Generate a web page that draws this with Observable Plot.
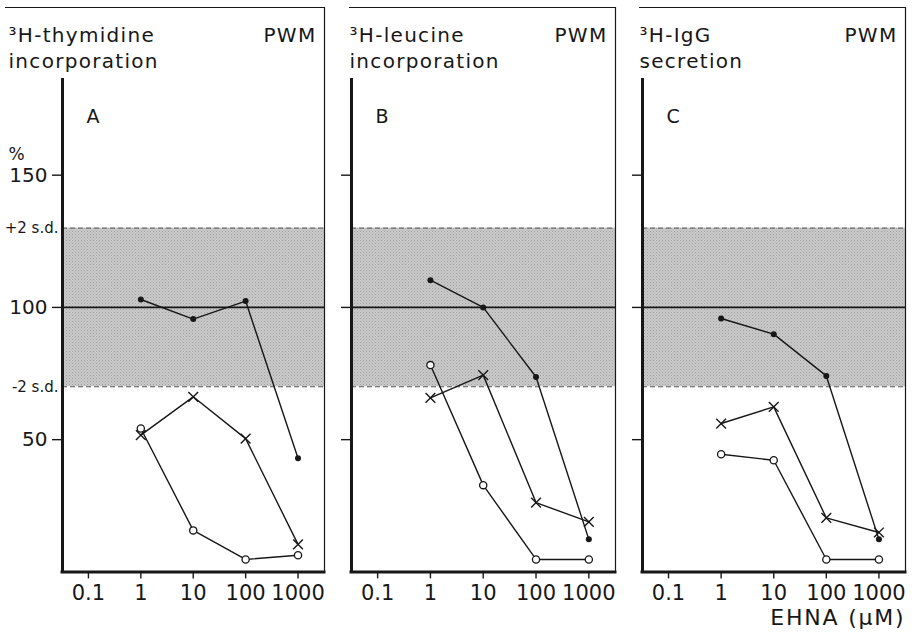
<!DOCTYPE html>
<html>
<head>
<meta charset="utf-8">
<script src="https://cdn.jsdelivr.net/npm/d3@7"></script>
<script src="https://cdn.jsdelivr.net/npm/@observablehq/plot@0.6"></script>
<style>
  html, body { margin: 0; padding: 0; background: #fff; }
  #figure { position: relative; width: 912px; height: 633px; overflow: hidden; }
  #figure > svg { position: absolute; top: 0; }
</style>
</head>
<body>
<svg width="0" height="0" style="position:absolute">
  <defs>
    <!-- halftone stipple for the ±2 s.d. reference band -->
    <pattern id="stipple" width="3" height="3" patternUnits="userSpaceOnUse">
      <rect width="3" height="3" fill="#c9c9c9"/>
      <rect width="1" height="1" fill="#a2a2a2"/>
      <rect x="1.5" y="1.5" width="1" height="1" fill="#b4b4b4"/>
    </pattern>
  </defs>
</svg>
<div id="figure"></div>
<script>
// EHNA concentrations (µM) tested
const doses = [1, 10, 100, 1000];
const doseTicks = [0.1, 1, 10, 100, 1000];
const percentTicks = [50, 100, 150];
const sdBand = [70, 130];          // control mean -2 s.d. / +2 s.d. (% of control)
const sdLabels = ["-2 s.d.", "+2 s.d."];
const control = [100];

// A: 3H-thymidine incorporation, % of control
const thymidineDots = [103, 95.6, 102.4, 43];
const thymidineCrosses = [51.7, 66.2, 50.4, 10.4];
const thymidineCircles = [54.2, 15.7, 4.7, 6.3];

// B: 3H-leucine incorporation, % of control
const leucineDots = [110.3, 100, 73.7, 12.3];
const leucineCrosses = [65.8, 74.4, 26.2, 18.9];
const leucineCircles = [78.2, 32.8, 4.7, 4.7];

// C: 3H-IgG secretion, % of control
const iggDots = [95.8, 89.9, 74.1, 12.3];
const iggCrosses = [56.1, 62.4, 20.4, 14.9];
const iggCircles = [44.5, 42.2, 4.7, 4.7];

const panelTitles = ["³H-thymidine\nincorporation", "³H-leucine\nincorporation", "³H-IgG\nsecretion"];
const panelLetters = ["A", "B", "C"];
const mitogen = "PWM";
const percentLabel = "%";
const xLabel = "EHNA (μM)";

// scale extents shared by the three panels
const xDomain = [0.032, 3200];
const yDomain = [0, 213.4];
const axisTop = 186;

const ink = "#171717";
const font = "'DejaVu Sans', sans-serif";
const titleSize = 20;
const xLabelSize = 22;

const panels = [
  {letter: panelLetters[0], title: panelTitles[0], dots: thymidineDots, crosses: thymidineCrosses, circles: thymidineCircles,
   left: 0, width: 330, marginLeft: 62, marginRight: 6, titleDx: -54, frameInset: -57, tickLabels: true},
  {letter: panelLetters[1], title: panelTitles[1], dots: leucineDots, crosses: leucineCrosses, circles: leucineCircles,
   left: 330, width: 290, marginLeft: 21, marginRight: 5, titleDx: -2, frameInset: -2},
  {letter: panelLetters[2], title: panelTitles[2], dots: iggDots, crosses: iggCrosses, circles: iggCircles,
   left: 620, width: 292, marginLeft: 22, marginRight: 7, titleDx: -3, frameInset: -3, xLabel: true}
];

function drawPanel(p) {
  const rows = doses.flatMap((dose, i) => [
    {dose, value: p.dots[i], kind: "dots"},
    {dose, value: p.crosses[i], kind: "crosses"},
    {dose, value: p.circles[i], kind: "circles"}
  ]);

  const marks = [
    // reference band and control level
    Plot.rect([sdBand], {x1: xDomain[0], x2: xDomain[1], y1: d => d[0], y2: d => d[1], fill: "url(#stipple)"}),
    Plot.ruleY(sdBand, {stroke: "#555", strokeWidth: 1, strokeDasharray: "5,3"}),
    Plot.ruleY(control, {stroke: ink, strokeWidth: 1.7}),

    // panel frame: thin top and right, heavy axes
    Plot.ruleY([yDomain[1]], {stroke: ink, strokeWidth: 1.2, insetLeft: p.frameInset}),
    Plot.ruleX([xDomain[1]], {y1: yDomain[0], y2: yDomain[1], stroke: ink, strokeWidth: 1.2}),
    Plot.ruleX([xDomain[0]], {y1: 0, y2: axisTop, stroke: ink, strokeWidth: 3, strokeLinecap: "square"}),
    Plot.ruleY([0], {stroke: ink, strokeWidth: 3, strokeLinecap: "square"}),

    Plot.axisX({ticks: doseTicks, tickFormat: d => String(d), tickSize: 7, tickPadding: 6,
      fontSize: 21, stroke: ink, strokeWidth: 1.4, fill: ink, label: null}),
    Plot.axisY({ticks: percentTicks, tickFormat: p.tickLabels ? d => String(d) : () => "",
      tickSize: 10, tickPadding: 5, fontSize: 20, stroke: ink, strokeWidth: 1.4, fill: ink, label: null}),

    // dose-response curves
    Plot.line(rows, {x: "dose", y: "value", z: "kind", stroke: ink, strokeWidth: 1.4}),
    Plot.dot(rows.filter(d => d.kind === "circles"), {x: "dose", y: "value", r: 3.6, fill: "white", stroke: ink, strokeWidth: 1.3}),
    Plot.dot(rows.filter(d => d.kind === "crosses"), {x: "dose", y: "value", symbol: "times", r: 4.5, stroke: ink, strokeWidth: 1.4}),
    Plot.dot(rows.filter(d => d.kind === "dots"), {x: "dose", y: "value", r: 3, fill: ink, stroke: "none"}),

    // headings
    Plot.text([p.title], {text: d => d, frameAnchor: "top-left", dx: p.titleDx, dy: 16.5, lineAnchor: "top",
      lineHeight: 1.3, textAnchor: "start", fontSize: titleSize, fill: ink}),
    Plot.text([mitogen], {text: d => d, frameAnchor: "top-right", dx: -8, dy: 16.5, lineAnchor: "top",
      lineHeight: 1.3, textAnchor: "end", fontSize: titleSize, fill: ink}),
    Plot.text([p.letter], {text: d => d, frameAnchor: "top-left", dx: 24, dy: 101.5, lineAnchor: "top",
      textAnchor: "start", fontSize: 19, fill: ink})
  ];

  if (p.tickLabels) {
    marks.push(
      Plot.text(sdBand, {y: d => d, text: (d, i) => sdLabels[i], frameAnchor: "left", dx: -4,
        textAnchor: "end", fontSize: 15, fill: ink}),
      Plot.text([percentTicks[2]], {y: d => d, text: () => percentLabel, frameAnchor: "left", dx: -54, dy: -15,
        lineAnchor: "bottom", textAnchor: "start", fontSize: 17, fill: ink})
    );
  }
  if (p.xLabel) {
    marks.push(Plot.text([xLabel], {text: d => d, frameAnchor: "bottom-right", dy: 53, lineAnchor: "bottom",
      textAnchor: "end", fontSize: xLabelSize, fill: ink}));
  }

  const svg = Plot.plot({
    width: p.width,
    height: 633,
    marginTop: 7,
    marginBottom: 61.6,
    marginLeft: p.marginLeft,
    marginRight: p.marginRight,
    x: {type: "log", domain: xDomain},
    y: {domain: yDomain},
    style: {fontFamily: font, background: "transparent", color: ink, overflow: "visible"},
    marks
  });
  svg.style.left = p.left + "px";
  // the lettering is set wide
  d3.select(svg).selectAll(`g[aria-label="text"][font-size="${titleSize}"] text`).style("letter-spacing", "1.3px");
  d3.select(svg).selectAll(`g[aria-label="text"][font-size="${xLabelSize}"] text`).style("letter-spacing", "1.8px");
  return svg;
}

const figure = document.getElementById("figure");
panels.forEach(p => figure.appendChild(drawPanel(p)));
</script>
</body>
</html>
